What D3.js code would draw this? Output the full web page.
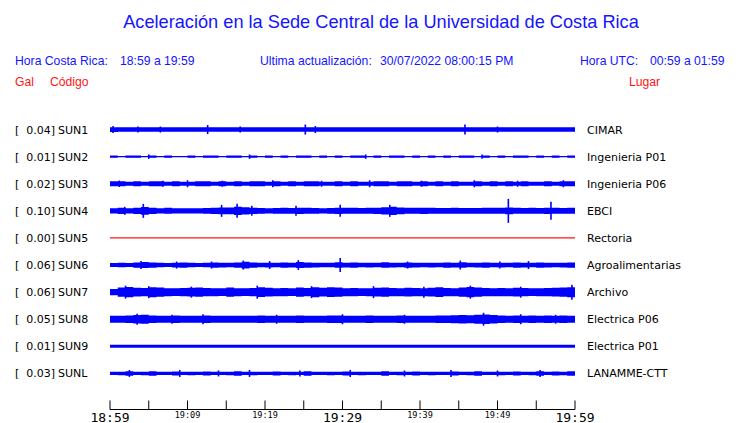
<!DOCTYPE html>
<html><head><meta charset="utf-8">
<script src="https://cdn.jsdelivr.net/npm/d3@7"></script>
<style>body{margin:0;background:#fff}svg{display:block}</style>
</head><body>
<script>
// ---- data ----
const codes = ["SUN1","SUN2","SUN3","SUN4","SUN5","SUN6","SUN7","SUN8","SUN9","SUNL"];
const places = ["CIMAR","Ingenieria P01","Ingenieria P06","EBCI","Rectoria","Agroalimentarias","Archivo","Electrica P06","Electrica P01","LANAMME-CTT"];
const gal = ["0.04","0.01","0.02","0.10","0.00","0.06","0.06","0.05","0.01","0.03"];
const tickLabels = ["18:59","19:09","19:19","19:29","19:39","19:49","19:59"];
const majorLabels = ["18:59","19:29","19:59"];
// envelope (relative amplitude) per minute, 60 minutes
const env = {
 SUN1:[2.4,2.2,2.2,2.2,2.3,2.2,2.2,2.2,2.2,2.2,2.2,2.2,2.3,2.2,2.2,2.2,2.2,2.2,2.2,2.2,2.2,2.2,2.2,2.2,2.2,2.3,2.2,2.2,2.2,2.2,2.2,2.2,2.2,2.2,2.2,2.2,2.2,2.2,2.2,2.2,2.2,2.2,2.2,2.2,2.2,2.3,2.2,2.2,2.2,2.2,2.2,2.2,2.2,2.2,2.2,2.2,2.2,2.2,2.2,2.3],
 SUN2:[1.2,0.4,1.2,1.2,0.4,1.1,0.4,1.1,0.4,0.4,1.1,0.4,1.2,1.2,0.4,1.1,1.1,0.4,1.1,0.4,1.2,0.4,1.1,0.4,1.2,1.1,0.4,1.2,0.4,1.1,0.4,1.1,1.2,0.4,1.1,0.4,1.2,1.1,0.4,1.1,0.4,1.2,0.4,1.1,0.4,1.2,1.1,0.4,1.1,0.4,1.2,0.4,1.1,1.2,0.4,1.1,0.4,1.2,0.4,1.1],
 SUN3:[2.6,2.6,2.0,2.6,2.0,2.6,2.6,2.0,2.6,2.0,2.0,2.6,2.6,2.0,2.6,2.0,2.6,2.0,2.6,2.6,2.0,2.6,2.0,2.6,2.0,2.6,2.6,2.0,2.0,2.6,2.0,2.6,2.0,2.0,2.6,2.6,2.0,2.6,2.6,2.0,2.6,2.0,2.6,2.0,2.6,2.0,2.0,2.6,2.0,2.6,2.0,2.6,2.0,2.6,2.0,2.0,2.6,2.0,2.6,2.6],
 SUN4:[2.6,3.2,2.6,3.2,3.8,3.2,2.6,3.0,2.6,2.6,2.6,2.6,2.8,3.2,3.4,3.4,4.2,3.6,3.2,2.8,2.6,2.8,3.0,2.8,3.2,3.0,2.8,2.6,2.8,3.2,3.0,3.0,2.8,3.0,3.2,3.6,4.2,3.4,3.0,3.0,3.2,3.0,2.8,2.8,3.0,2.8,2.8,2.8,3.0,3.0,3.0,3.4,3.0,2.8,3.0,2.8,3.2,3.0,2.8,3.0],
 SUN5:[0,0,0,0,0,0,0,0,0,0,0,0,0,0,0,0,0,0,0,0,0,0,0,0,0,0,0,0,0,0,0,0,0,0,0,0,0,0,0,0,0,0,0,0,0,0,0,0,0,0,0,0,0,0,0,0,0,0,0,0],
 SUN6:[2.0,2.2,2.0,2.6,3.0,2.6,2.2,2.0,2.4,2.6,2.2,2.0,2.2,2.6,2.4,2.2,2.6,3.4,2.6,2.2,2.4,2.2,2.6,2.4,3.0,2.6,2.4,2.2,2.2,2.8,2.4,2.6,2.2,2.4,2.2,2.8,2.4,2.2,2.6,2.4,2.2,2.4,2.2,2.6,2.4,2.8,2.2,2.4,2.6,2.2,2.4,2.2,2.6,2.4,2.2,2.6,2.4,2.2,2.4,2.6],
 SUN7:[3.2,4.6,5.2,4.4,4.2,5.0,4.6,4.0,3.8,4.2,4.4,4.6,4.2,4.0,3.8,4.6,4.0,3.8,4.2,4.8,4.4,4.0,4.2,3.8,4.6,4.2,5.0,4.4,4.8,4.6,4.0,4.2,3.8,4.0,4.4,4.6,4.2,4.0,4.4,4.2,4.0,4.4,4.8,4.2,4.0,4.6,5.2,4.6,4.2,4.0,4.2,4.0,4.4,4.2,3.8,4.0,4.2,4.4,4.6,5.0],
 SUN8:[3.4,3.6,3.8,4.2,4.4,3.8,3.4,3.6,3.8,3.6,3.4,3.6,3.8,3.6,3.4,3.4,3.6,3.4,3.6,3.8,3.6,3.4,3.4,3.6,3.8,3.6,3.4,3.6,3.8,3.8,3.6,3.4,3.6,3.8,3.6,3.4,3.6,3.8,3.6,3.4,3.6,3.6,3.8,3.8,4.0,4.2,4.0,4.4,4.8,4.2,3.8,3.6,3.8,3.6,3.8,3.6,3.8,3.6,3.8,3.6],
 SUN9:[1.5,1.5,1.5,1.5,1.5,1.5,1.5,1.5,1.5,1.5,1.5,1.5,1.5,1.5,1.5,1.5,1.5,1.5,1.5,1.5,1.5,1.5,1.5,1.5,1.5,1.5,1.5,1.5,1.5,1.5,1.5,1.5,1.5,1.5,1.5,1.5,1.5,1.5,1.5,1.5,1.5,1.5,1.5,1.5,1.5,1.5,1.5,1.5,1.5,1.5,1.5,1.5,1.5,1.5,1.5,1.5,1.5,1.5,1.5,1.5],
 SUNL:[1.6,1.8,2.2,1.6,1.8,2.2,1.6,1.6,2.0,1.6,1.8,1.6,2.0,1.6,1.6,1.8,2.2,1.6,1.8,1.6,1.6,2.0,1.6,1.8,1.6,2.2,1.6,1.6,1.8,1.6,2.0,1.6,1.8,1.6,1.6,2.2,1.6,1.8,1.6,2.0,1.6,1.8,1.6,1.6,2.0,1.6,1.8,2.2,1.6,1.6,1.8,1.6,2.0,1.6,1.8,2.2,1.6,2.0,1.8,2.2]
};
// spikes: minute, amplitude
const spikeT = {
 SUN1:[0.4,3.6,6.5,12.6,16.8,25.2,26.5,45.8,50.0],
 SUN2:[5.0,18.0,33.0,48.0],
 SUN3:[1.2,6.8,10.0,14.5,21.0,27.3,33.5,40.2,47.0,52.6,58.5],
 SUN4:[1.9,4.3,14.4,16.4,18.3,24.0,29.7,36.1,51.4,56.9],
 SUN5:[],
 SUN6:[4.0,8.6,13.1,17.2,20.6,24.3,29.7,38.4,45.2,50.3,54.0],
 SUN7:[2.0,5.0,10.5,19.0,26.0,34.0,40.5,46.5,53.0,59.6],
 SUN8:[3.5,8.0,12.0,21.5,30.0,38.0,48.2,53.0,57.5],
 SUN9:[],
 SUNL:[2.5,9.0,14.0,18.0,24.5,31.0,38.0,44.0,50.0,55.5]
};
const spikeA = {
 SUN1:[3.5,3.0,3.0,4.5,3.0,5.0,3.5,5.0,3.0],
 SUN2:[2.2,2.2,2.2,2.2],
 SUN3:[3.2,3.0,3.5,3.0,3.5,3.0,3.5,3.0,3.5,3.0,3.5],
 SUN4:[4.0,7.0,6.0,7.0,5.0,5.0,6.0,6.0,12.0,9.0],
 SUN5:[],
 SUN6:[4.0,3.5,3.5,4.5,4.0,5.0,7.0,3.5,4.5,3.5,4.0],
 SUN7:[6.5,6.0,5.5,6.5,6.0,6.0,5.5,6.5,5.5,7.5],
 SUN8:[5.5,4.5,5.0,4.5,5.0,4.5,6.5,5.0,4.5],
 SUN9:[],
 SUNL:[3.5,3.5,3.0,3.5,3.0,3.5,3.0,3.5,3.0,3.5]
};

// ---- drawing ----
const W=740,H=423;
const BLUE="#1414ff", RED="#ff1414";
const svg=d3.select("body").append("svg").attr("width",W).attr("height",H);

svg.append("text").attr("x",381).attr("y",28).attr("text-anchor","middle")
  .style("font-family","Liberation Sans, Arial, sans-serif").style("font-size","18.2px").attr("fill",BLUE)
  .text("Aceleración en la Sede Central de la Universidad de Costa Rica");

const hdr=[["Hora Costa Rica:",15],["18:59 a 19:59",120],["Ultima actualización:",260],["30/07/2022 08:00:15 PM",380],["Hora UTC:",580],["00:59 a 01:59",650]];
svg.selectAll(".hdr").data(hdr).join("text").attr("x",d=>d[1]).attr("y",65)
  .style("font-family","Liberation Sans, Arial, sans-serif").style("font-size","12.2px").attr("fill",BLUE).text(d=>d[0]);
const hdr2=[["Gal",15],["Código",50],["Lugar",629]];
svg.selectAll(".hdr2").data(hdr2).join("text").attr("x",d=>d[1]).attr("y",86)
  .style("font-family","Liberation Sans, Arial, sans-serif").style("font-size","12.2px").attr("fill",RED).text(d=>d[0]);

const x=d3.scaleLinear().domain([0,60]).range([110,575]);
const row=d3.scaleBand().domain(codes).range([116,387]);
const mins=d3.range(60);

codes.forEach((c,i)=>{
  const cy=row(c)+row.bandwidth()/2;
  const y=d3.scaleLinear().domain([-13,13]).range([cy+13,cy-13]);
  const g=svg.append("g");
  const lf="DejaVu Sans, sans-serif";
  g.append("text").attr("x",15).attr("y",cy+4).style("font-family",lf).style("font-size","11px").text("[");
  g.append("text").attr("x",55).attr("y",cy+4).attr("text-anchor","end").style("font-family",lf).style("font-size","11px").text(gal[i]+"]");
  g.append("text").attr("x",58).attr("y",cy+4).style("font-family",lf).style("font-size","11px").text(c);
  g.append("text").attr("x",587).attr("y",cy+4).style("font-family",lf).style("font-size","11px").text(places[i]);
  const col = c==="SUN5"?RED:"#0000ff";
  const pts=mins.map(m=>({m,v:env[c][m]})).concat([{m:60,v:env[c][59]}]);
  const area=d3.area().curve(d3.curveStepAfter).x(d=>x(d.m)).y0(d=>y(-d.v)).y1(d=>y(d.v));
  g.append("path").attr("d",area(pts)).attr("fill",col);
  g.append("line").attr("x1",x(0)).attr("x2",x(60)).attr("y1",y(0)).attr("y2",y(0)).attr("stroke",col).attr("stroke-width",1.2);
  g.selectAll(".sp").data(spikeT[c].map((t,k)=>[t,spikeA[c][k]])).join("line")
    .attr("x1",d=>x(d[0])).attr("x2",d=>x(d[0])).attr("y1",d=>y(-d[1])).attr("y2",d=>y(d[1]))
    .attr("stroke",col).attr("stroke-width",1.6);
});

// axis
const ax=svg.append("g").attr("transform","translate(0,409.5)");
ax.append("line").attr("x1",x(0)).attr("x2",x(60)).attr("stroke","#000");
ax.selectAll(".tk").data(d3.range(0,61,5)).join("line").attr("x1",d=>x(d)).attr("x2",d=>x(d)).attr("y1",0).attr("y2",-9).attr("stroke","#000");
ax.selectAll(".tl").data(tickLabels).join("text")
  .attr("x",(d,i)=>x(i*10)).attr("y",d=>majorLabels.includes(d)?12:8.5).attr("text-anchor","middle")
  .style("font-family","DejaVu Sans Mono, monospace").style("font-size",d=>majorLabels.includes(d)?"13px":"8.5px")
  .text(d=>d);
</script>
</body></html>
